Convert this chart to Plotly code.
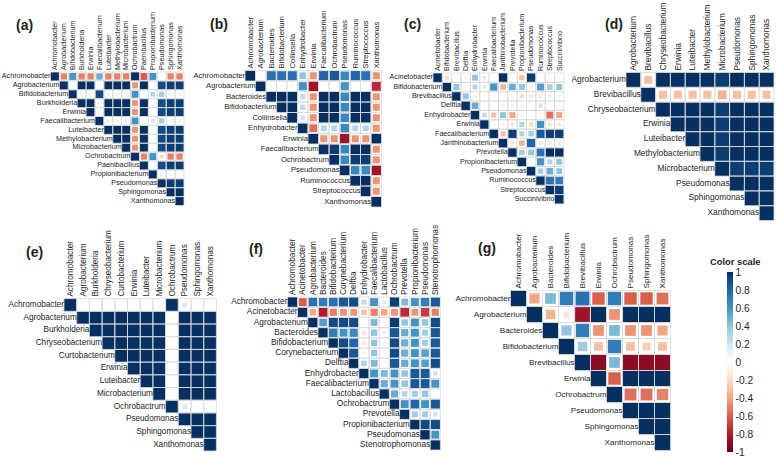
import math
import plotly.graph_objects as go

W, H = 777, 457

# ---------------- data ----------------
a_taxa = ["Achromobacter", "Agrobacterium", "Bifidobacterium", "Burkholderia", "Erwinia",
          "Faecalibacterium", "Luteibacter", "Methylobacterium", "Microbacterium", "Ochrobactrum",
          "Paenibacillus", "Propionibacterium", "Pseudomonas", "Sphingomonas", "Xanthomonas"]
a_upper = [
    [-0.5, 0.6, -0.5, -0.5, 0.5, -0.5, -0.5, -0.5, 1.0, -0.6, 0.6, 0.05, -0.5, -0.5],
    [0.05, 1, 1, 0.05, 1, 1, 1, -0.45, 1, 0, 0.9, 0.95, 0.95],
    [0.1, 0.1, 0.9, 0.1, 0.1, 0.1, 0.6, 0.03, 0.3, 0.35, 0.1, 0.1],
    [1, 0.1, 1, 1, 1, -0.45, 1, 0, 0.9, 0.95, 0.95],
    [0.1, 1, 1, 1, -0.45, 1, 0, 0.9, 0.95, 0.95],
    [0.1, 0.1, 0.1, 0.6, 0.03, 0.2, 0.35, 0.1, 0.1],
    [1, 1, -0.45, 1, 0, 0.9, 0.95, 0.95],
    [1, -0.45, 1, 0, 0.9, 0.95, 0.95],
    [-0.45, 1, 0, 0.9, 0.95, 0.95],
    [-0.5, 0.6, -0.2, -0.5, -0.5],
    [0.03, 0.9, 0.95, 0.95],
    [0.1, 0, 0],
    [0.95, 0.95],
    [1],
]

b_taxa = ["Achromobacter", "Agrobacterium", "Bacteroides", "Bifidobacterium", "Collinsella",
          "Enhydrobacter", "Erwinia", "Faecalibacterium", "Ochrobactrum", "Pseudomonas",
          "Ruminococcus", "Streptococcus", "Xanthomonas"]
b_upper = [
    [0.05, 0.75, 0.75, 0.75, 0.4, -0.45, 0.8, 0.85, 0.65, 0.8, 0.75, -0.45],
    [-0.05, -0.05, -0.05, 0.6, -0.85, 0.03, 0.03, 0.6, 0.03, 0.03, -0.75],
    [1, 1, 0.25, -0.45, 1, 1, 0.65, 1, 1, -0.45],
    [1, 0.25, -0.45, 1, 1, 0.65, 1, 1, -0.45],
    [0.2, -0.45, 1, 1, 0.65, 1, 1, -0.45],
    [-0.55, 0.3, 0.3, 0.65, 0.3, 0.3, -0.45],
    [-0.45, -0.45, -0.85, -0.45, -0.45, 1],
    [0.95, 0.65, 1, 1, -0.45],
    [0.65, 0.95, 0.95, -0.45],
    [0.65, 0.65, -0.85],
    [1, -0.45],
    [-0.45],
]

c_taxa = ["Acinetobacter", "Bifidobacterium", "Brevibacillus", "Delftia", "Enhydrobacter",
          "Erwinia", "Faecalibacterium", "Janthinobacterium", "Prevotella", "Propionibacterium",
          "Pseudomonas", "Ruminococcus", "Streptococcus", "Succinivibrio"]
c_upper = [
    [-0.2, 0, -0.1, 0.4, -0.15, -0.05, 1, 0, -0.3, 0.95, 0, 0, 0],
    [0.4, 0.05, 0.3, 0.15, 0.6, -0.35, 0.5, 0.4, -0.1, 0.55, 0.35, 0.4],
    [0.4, 0.1, 0.05, -0.05, -0.05, -0.1, -0.2, -0.15, -0.15, -0.1, -0.1],
    [0.5, 0.05, 0.02, -0.1, 0.1, -0.1, -0.05, 0.2, 0, 0],
    [0.25, -0.3, 0.4, -0.4, 0.1, -0.05, 0, -0.55, -0.4],
    [0.05, -0.1, -0.15, 0.3, -0.2, 0.6, -0.15, -0.15],
    [-0.3, 0.95, 0.3, 0.35, 0.85, 0.95, 0.95],
    [-0.15, -0.35, 0.8, -0.15, -0.15, -0.15],
    [0.35, 0.4, 0.75, 1, 1],
    [0, 0.6, 0.3, 0.4],
    [0.35, 0.5, 0.4],
    [0.75, 0.7],
    [0.95],
]

d_taxa = ["Agrobacterium", "Brevibacillus", "Chryseobacterium", "Erwinia", "Luteibacter",
          "Methylobacterium", "Microbacterium", "Pseudomonas", "Sphingomonas", "Xanthomonas"]
d_upper = [
    [-0.3, 1, 1, 1, 1, 0.95, 1, 1, 1],
    [-0.3, -0.3, -0.3, -0.3, -0.35, -0.3, -0.3, -0.3],
    [1, 1, 1, 0.95, 1, 1, 1],
    [1, 1, 0.95, 1, 1, 1],
    [1, 0.95, 1, 1, 1],
    [0.95, 1, 1, 1],
    [0.95, 0.95, 0.95],
    [1, 1],
    [1],
]

e_taxa = ["Achromobacter", "Agrobacterium", "Burkholderia", "Chryseobacterium", "Curtobacterium",
          "Erwinia", "Luteibacter", "Microbacterium", "Ochrobactrum", "Pseudomonas",
          "Sphingomonas", "Xanthomonas"]
e_upper = [
    [0.03, 0, 0, 0, 0, 0, 0, 1, 0.15, 0, 0],
    [1, 1, 1, 1, 1, 1, 0.03, 1, 1, 1],
    [1, 1, 1, 1, 1, 0, 1, 1, 1],
    [1, 1, 1, 1, 0, 1, 1, 1],
    [1, 1, 1, 0, 1, 1, 1],
    [1, 1, 0, 1, 1, 1],
    [1, 0, 1, 1, 1],
    [0, 1, 1, 1],
    [0.15, 0, 0],
    [1, 1],
    [1],
]

f_taxa = ["Achromobacter", "Acinetobacter", "Agrobacterium", "Bacteroides", "Bifidobacterium",
          "Corynebacterium", "Delftia", "Enhydrobacter", "Faecalibacterium", "Lactobacillus",
          "Ochrobactrum", "Prevotella", "Propionibacterium", "Pseudomonas", "Stenotrophomonas"]
f_upper = [
    [-0.6, 0.75, 0.7, 0.75, 0.85, 0.9, 0.25, 0.6, 0.15, 0.95, 0.45, 0.6, 0.7, 0.85],
    [-0.4, -0.8, -0.5, -0.45, -0.45, -0.3, -0.5, -0.4, -0.45, -0.75, -0.45, -0.7, -0.5],
    [0.55, 0.9, 0.9, 0.9, -0.05, 0.45, -0.05, 0.95, 0.4, 0.6, 0.4, 0.9],
    [0.7, 0.6, 0.65, -0.15, 0.4, -0.1, 0.85, 0.5, 0.6, 0.35, 0.85],
    [0.9, 0.8, -0.15, 0.4, 0.1, 0.9, 0.5, 0.6, 0.35, 0.85],
    [0.85, -0.1, 0.4, 0.05, 0.9, 0.5, 0.6, 0.55, 0.85],
    [0.3, 0.45, 0.03, 0.85, 0.5, 0.6, 0.55, 0.9],
    [0.6, 0.45, 0.6, 0.4, 0.85, 0.85, 0.2],
    [0.5, 0.6, 0.4, 0.85, 0.85, 0.6],
    [0.5, 0.3, 0.35, 0.4, 0.05],
    [0.6, 0.8, 0.6, 0.85],
    [0.35, 0.35, 0.2],
    [0.9, 0.9],
    [0.6],
]

g_taxa = ["Achromobacter", "Agrobacterium", "Bacteroides", "Bifidobacterium", "Brevibacillus",
          "Erwinia", "Ochrobactrum", "Pseudomonas", "Sphingomonas", "Xanthomonas"]
g_upper = [
    [-0.4, 0.45, 0.7, 0.75, -0.6, 0.7, -0.6, -0.6, -0.55],
    [-0.35, -0.15, -0.85, 1, -0.45, 1, 1, 1],
    [0.4, 0.7, -0.45, 0.45, -0.45, -0.45, -0.4],
    [0.35, -0.3, 0.7, -0.3, -0.25, -0.3],
    [-0.9, 0.45, -0.9, -0.9, -0.9],
    [-0.6, 1, 1, 1],
    [-0.55, -0.55, -0.5],
    [1, 1],
    [1],
]

scale_ticks = [1, 0.8, 0.6, 0.4, 0.2, 0, -0.2, -0.4, -0.6, -0.8, -1]

# ---------------- styling / layout ----------------
rdbu = ["#67001F", "#B2182B", "#D6604D", "#F4A582", "#FDDBC7", "#FFFFFF",
        "#D1E5F0", "#92C5DE", "#4393C3", "#2166AC", "#053061"]
colorscale = [[i / 10, c] for i, c in enumerate(rdbu)]
FONT = "Arial, 'Liberation Sans', sans-serif"
TXT = "#1e1e1e"

# (label, taxa, upper, left px, top px, cell px, font px, label position px)
panels = [
    ("(a)", a_taxa, a_upper, 50.5, 72.0, 8.9, 7.2, (24.5, 25)),
    ("(b)", b_taxa, b_upper, 245.0, 70.5, 10.5, 7.6, (219, 24)),
    ("(c)", c_taxa, c_upper, 433.0, 73.0, 9.35, 7.1, (412, 24)),
    ("(d)", d_taxa, d_upper, 626.0, 72.5, 14.8, 8.4, (614, 24)),
    ("(e)", e_taxa, e_upper, 64.0, 298.6, 12.7, 8.2, (34, 252)),
    ("(f)", f_taxa, f_upper, 287.4, 297.0, 10.2, 8.3, (256, 249)),
    ("(g)", g_taxa, g_upper, 510.5, 290.5, 16.0, 8.1, (487, 248)),
]

fig = go.Figure()
layout = dict(width=W, height=H, margin=dict(l=0, r=0, t=0, b=0, autoexpand=False),
              paper_bgcolor="white", plot_bgcolor="rgba(0,0,0,0)",
              showlegend=False, font=dict(family=FONT, color=TXT))
annotations = []

for k, (lab, taxa, upper, x0, y0, c, fs, lpos) in enumerate(panels):
    n = len(taxa)
    xa = "x" if k == 0 else f"x{k+1}"
    ya = "y" if k == 0 else f"y{k+1}"
    xkey = "xaxis" if k == 0 else f"xaxis{k+1}"
    ykey = "yaxis" if k == 0 else f"yaxis{k+1}"

    xs, ys, vals = [], [], []
    gx, gy = [], []
    for i in range(n):
        for j in range(i, n):
            r = 1.0 if i == j else upper[i][j - i - 1]
            gx.append(j)
            gy.append(i)
            if r != 0:
                xs.append(j)
                ys.append(i)
                vals.append(r)
    sizes = [c * math.sqrt(abs(v)) for v in vals]

    marker = dict(symbol="square", size=sizes, color=vals, colorscale=colorscale,
                  cmin=-1, cmax=1, opacity=1, line=dict(width=0))
    if k == len(panels) - 1:
        marker["showscale"] = True
        marker["colorbar"] = dict(
            x=727 / W, xanchor="left", y=1 - 362 / H, yanchor="middle",
            thickness=6, thicknessmode="pixels", len=180, lenmode="pixels",
            outlinewidth=0, xpad=0, ypad=0, borderwidth=0,
            tickmode="array", tickvals=scale_ticks,
            ticktext=[f"{t:g}" for t in scale_ticks],
            ticklabeloverflow="allow",
            ticks="", ticklen=0, tickfont=dict(size=10.2, family=FONT, color=TXT))
    else:
        marker["showscale"] = False

    fig.add_trace(go.Scatter(x=xs, y=ys, mode="markers", marker=marker,
                             xaxis=xa, yaxis=ya, hoverinfo="skip", cliponaxis=False))
    fig.add_trace(go.Scatter(x=gx, y=gy, mode="markers",
                             marker=dict(symbol="square-open", size=c, color="#dadada",
                                         opacity=1, line=dict(width=0.8, color="#dadada")),
                             xaxis=xa, yaxis=ya, hoverinfo="skip", cliponaxis=False))
    fig.add_trace(go.Scatter(x=[i - 0.5 for i in range(n)], y=list(range(n)), mode="text",
                             text=taxa, textposition="middle left",
                             textfont=dict(size=fs, family=FONT, color=TXT),
                             xaxis=xa, yaxis=ya, hoverinfo="skip", cliponaxis=False))

    layout[xkey] = dict(domain=[x0 / W, (x0 + n * c) / W], range=[-0.5, n - 0.5],
                        anchor=ya, side="top", tickmode="array",
                        tickvals=list(range(n)), ticktext=taxa, tickangle=-90,
                        tickfont=dict(size=fs, family=FONT, color=TXT),
                        ticks="", showgrid=False, zeroline=False, showline=False,
                        fixedrange=True, ticklabelstandoff=1)
    layout[ykey] = dict(domain=[1 - (y0 + n * c) / H, 1 - y0 / H], range=[n - 0.5, -0.5],
                        anchor=xa, visible=False, showgrid=False, zeroline=False,
                        fixedrange=True)
    annotations.append(dict(text=f"<b>{lab}</b>", x=lpos[0] / W, y=1 - lpos[1] / H,
                            xref="paper", yref="paper", xanchor="center", yanchor="middle",
                            showarrow=False, font=dict(size=14, family=FONT, color=TXT)))

annotations.append(dict(text="<b>Color scale</b>", x=735 / W, y=1 - 261 / H,
                        xref="paper", yref="paper", xanchor="center", yanchor="middle",
                        showarrow=False, font=dict(size=9.4, family=FONT, color=TXT)))
layout["annotations"] = annotations
fig.update_layout(**layout)

fig.write_html("out.html", config={"displayModeBar": False, "staticPlot": True},
               post_script="document.body.style.margin='0';document.body.style.overflow='hidden';")
